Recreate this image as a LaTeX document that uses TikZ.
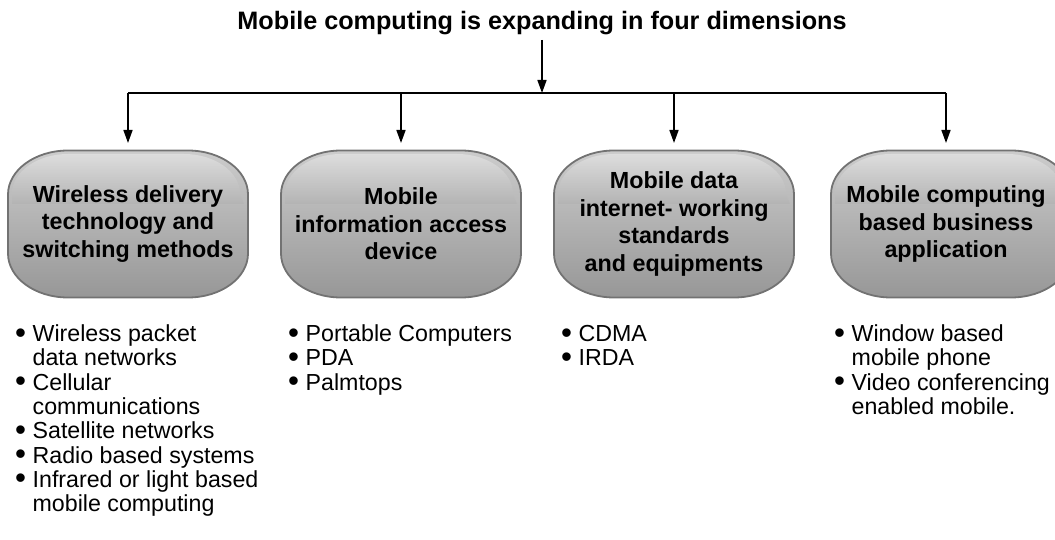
\documentclass[tikz,border=0pt]{standalone}
\usepackage{graphicx}
\usepackage{fontspec}
\setmainfont{Liberation Sans}
\usetikzlibrary{arrows.meta}
\definecolor{boxtop}{HTML}{CCCCCC}
\definecolor{boxmid}{HTML}{ABABAB}
\definecolor{boxbot}{HTML}{979797}
\definecolor{boxedge}{HTML}{727272}
\newcommand{\bigdot}{\smash{\raisebox{-1.6pt}{\scalebox{1.35}{\textbullet}}}}
\newcommand{\itm}[1]{\bigdot & #1\\}
\newcommand{\cnt}[1]{ & #1\\}
% capsule outline with elliptical corners, centred on (#1,#2)
\newcommand{\capsule}[2]{%
  \path[capsulefill] (#1-60,#2-73.5) -- (#1+60,#2-73.5)
    arc[start angle=-90,end angle=0,x radius=60,y radius=44] -- (#1+120,#2+29.5)
    arc[start angle=0,end angle=90,x radius=60,y radius=44] -- (#1-60,#2+73.5)
    arc[start angle=90,end angle=180,x radius=60,y radius=44] -- (#1-120,#2-29.5)
    arc[start angle=180,end angle=270,x radius=60,y radius=44] -- cycle;
  \path[capsuleshine] (#1-56,#2-70) -- (#1+56,#2-70)
    arc[start angle=-90,end angle=0,x radius=56,y radius=40] -- (#1+116,#2-20)
    -- (#1-116,#2-20) -- (#1-116,#2-30)
    arc[start angle=180,end angle=270,x radius=56,y radius=40] -- cycle;}
\begin{document}
\begin{tikzpicture}[x=1pt,y=-1pt,
  capsulefill/.style={draw=boxedge, line width=1.8pt, top color=boxtop,
    middle color=boxmid, bottom color=boxbot},
  capsuleshine/.style={top color=white, bottom color=boxmid, opacity=0.35},
  stagebox/.style={inner sep=0pt, align=center,
    font=\fontsize{23.3}{27.6}\selectfont\bfseries},
  link/.style={line width=1.6pt, -{Triangle[length=13pt,width=9pt]}},
  wire/.style={line width=1.6pt},
  listtext/.style={anchor=base west, inner sep=0pt,
    font=\fontsize{23.2}{24.3}\selectfont},
  headline/.style={anchor=base, inner sep=0pt,
    font=\fontsize{25.2}{28}\selectfont\bfseries}]
  \useasboundingbox (0,0) rectangle (1055,540);

  % heading and the trunk arrow
  \node[headline] (title) at (542,30) {Mobile computing is expanding in four dimensions};
  \coordinate (trunkTop) at (542,40);
  \coordinate (trunkEnd) at (542,93);
  \draw[link] (trunkTop) -- (trunkEnd);

  % the four dimensions
  \capsule{128}{224}
  \capsule{401}{224}
  \capsule{674}{224}
  \capsule{951}{224}
  \node[stagebox] (b1) at (128,224) {Wireless delivery\\technology and\\switching methods};
  \node[stagebox] (b2) at (401,224) {Mobile\\information access\\device};
  \node[stagebox] (b3) at (674,224) {Mobile data\\internet- working\\standards\\and equipments};
  \node[stagebox] (b4) at (946,224) {Mobile computing\\based business\\application};

  % distribution bar and branch arrows
  \coordinate (j1) at (128,93);
  \coordinate (j2) at (401,93);
  \coordinate (j3) at (674,93);
  \coordinate (j4) at (946,93);
  \draw[wire] (j1) -- (j4);
  \coordinate (t1) at (128,143);
  \coordinate (t2) at (401,143);
  \coordinate (t3) at (674,143);
  \coordinate (t4) at (946,143);
  \foreach \k in {1,2,3,4} \draw[link] (j\k) -- (t\k);

  % bullet lists under each dimension
  \node[listtext] (l1) at (15,341.5) {\begin{tabular}[t]{@{}l@{\hspace{6.5pt}}l@{}}
    \itm{Wireless packet}\cnt{data networks}
    \itm{Cellular}\cnt{communications}
    \itm{Satellite networks}
    \itm{Radio based systems}
    \itm{Infrared or light based}\cnt{mobile computing}
  \end{tabular}};
  \node[listtext] (l2) at (288,341.5) {\begin{tabular}[t]{@{}l@{\hspace{6.5pt}}l@{}}
    \itm{Portable Computers}
    \itm{PDA}
    \itm{Palmtops}
  \end{tabular}};
  \node[listtext] (l3) at (561,341.5) {\begin{tabular}[t]{@{}l@{\hspace{6.5pt}}l@{}}
    \itm{CDMA}
    \itm{IRDA}
  \end{tabular}};
  \node[listtext] (l4) at (834,341.5) {\begin{tabular}[t]{@{}l@{\hspace{6.5pt}}l@{}}
    \itm{Window based}\cnt{mobile phone}
    \itm{Video conferencing}\cnt{enabled mobile.}
  \end{tabular}};
\end{tikzpicture}
\end{document}
